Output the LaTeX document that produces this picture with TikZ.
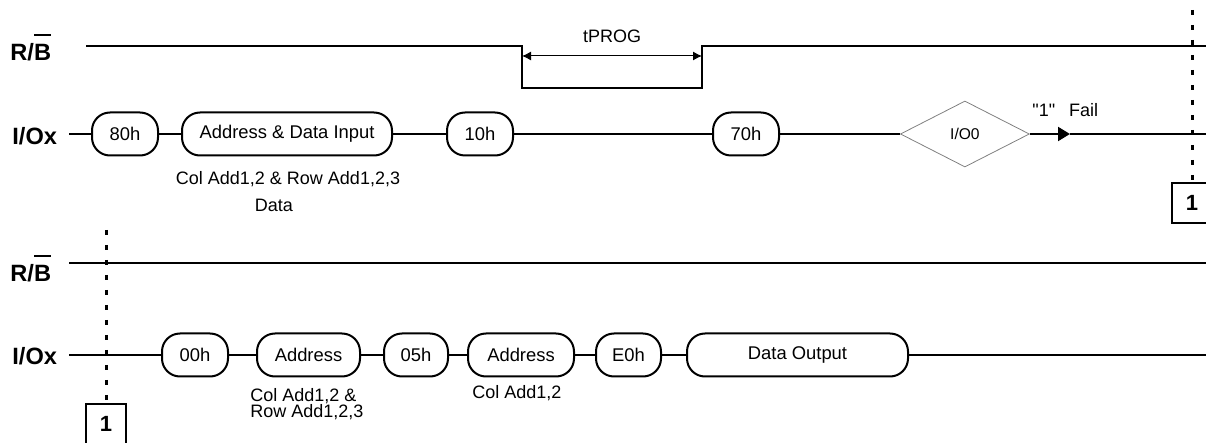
\documentclass[tikz,border=0pt]{standalone}
\usepackage{fontspec}
\setmainfont{Liberation Sans}[Ligatures=TeXOff]
\usetikzlibrary{positioning,arrows.meta,shapes.geometric}
\newcommand{\olB}{\rlap{\rule[1.05em]{0.72em}{0.1em}}B}

\begin{document}
\begin{tikzpicture}[
  x=0.5pt,y=-0.5pt,
  node distance=11pt and 11pt,
  sig/.style={line width=1pt},
  cmd/.style={draw,line width=1pt,rounded corners=9pt,minimum height=21.5pt,inner sep=0pt,font=\fontsize{9.2}{11}\selectfont},
  lbl/.style={anchor=base west,inner sep=0pt,font=\fontsize{11.8}{14}\selectfont\bfseries},
  note/.style={inner sep=0pt,font=\fontsize{9}{11}\selectfont},
  dots/.style={line width=1.5pt,dash pattern=on 2.5pt off 5pt},
  conn/.style={draw,line width=0.9pt,minimum width=20pt,minimum height=20pt,inner sep=0pt,font=\fontsize{11}{13}\selectfont\bfseries}
]
\useasboundingbox (0,0) rectangle (1206,443);
\clip (0,0) rectangle (1206,443);

% program: R/B
\node[lbl] (rbA) at (10,61) {R/\olB};
\coordinate (rbAin) at (86,46);
\coordinate (busyA) at (522,46);
\coordinate (busyB) at (702,46);
\coordinate (rbAout) at (1206,46);
\draw[sig] (rbAin) -- (busyA) -- ++(0,42) -| (busyB) -- (rbAout);
\draw[{Latex[length=4.5pt,width=4.5pt]}-{Latex[length=4.5pt,width=4.5pt]},line width=0.5pt] ([yshift=-5pt]busyA) -- ([yshift=-5pt]busyB);
\node[note,anchor=base] (tprog) at (612,43) {tPROG};

% program: I/Ox
\node[lbl] (ioA) at (12,145) {I/Ox};
\coordinate (ioAin) at (69,134);
\coordinate (ioAout) at (1206,134);
\node[cmd,minimum width=33pt] (c80) at (125,134) {80h};
\node[cmd,minimum width=105pt,right=11pt of c80] (din) {Address \& Data Input};
\node[cmd,minimum width=33pt,right=26.5pt of din] (c10) {10h};
\node[cmd,minimum width=33pt,right=99pt of c10] (c70) {70h};
\node[diamond,draw=gray,line width=0.4pt,minimum width=64.5pt,minimum height=33pt,inner sep=0pt,font=\fontsize{7.8}{9}\selectfont,right=60pt of c70] (io0) {I/O0};
\coordinate (failtip) at (1070,134);
\draw[sig] (ioAin) -- (c80);
\draw[sig] (c80) -- (din);
\draw[sig] (din) -- (c10);
\draw[sig] (c10) -- (c70);
\draw[sig] (c70) -- (io0);
\draw[sig,-{Triangle[length=6pt,width=7pt]}] (io0) -- (failtip);
\draw[sig] (failtip) -- (ioAout);
\node[note,anchor=base west] (fail) at (1032,117) {"1"\hspace{7pt}Fail};
\node[note,anchor=base] (addrA) at (288,185) {Col Add1,2 \& Row Add1,2,3};
\node[note,anchor=base] (dataA) at (274,212) {Data};

% page break marker
\coordinate (dotA) at (1192,10);
\node[conn] (oneA) at (1192,203) {1};
\draw[dots] (dotA) -- (oneA);

% read back: R/B
\node[lbl] (rbB) at (10,282) {R/\olB};
\coordinate (rbBin) at (69,263);
\coordinate (rbBout) at (1206,263);
\draw[sig] (rbBin) -- (rbBout);

% read back: I/Ox
\node[lbl] (ioB) at (12,365) {I/Ox};
\coordinate (ioBin) at (69,355);
\coordinate (ioBout) at (1206,355);
\node[cmd,minimum width=33pt] (c00) at (195,355) {00h};
\node[cmd,minimum width=51.5pt,right=13.5pt of c00] (addrB) {Address};
\node[cmd,minimum width=32pt,right=11pt of addrB] (c05) {05h};
\node[cmd,minimum width=53pt,right=9pt of c05] (addrC) {Address};
\node[cmd,minimum width=32.5pt,right=10pt of addrC] (ce0) {E0h};
\node[cmd,minimum width=110.5pt,right=12pt of ce0] (dout) {Data Output};
\draw[sig] (ioBin) -- (c00);
\draw[sig] (c00) -- (addrB);
\draw[sig] (addrB) -- (c05);
\draw[sig] (c05) -- (addrC);
\draw[sig] (addrC) -- (ce0);
\draw[sig] (ce0) -- (dout);
\draw[sig] (dout) -- (ioBout);
\node[note,anchor=base west] (colB1) at (250,401) {Col Add1,2 \&};
\node[note,anchor=base west] (colB2) at (250,418) {Row Add1,2,3};
\node[note,anchor=base] (colC) at (517,399) {Col Add1,2};

% page break marker
\coordinate (dotB) at (106,230);
\node[conn] (oneB) at (106,424) {1};
\draw[dots] (dotB) -- (oneB);
\end{tikzpicture}
\end{document}
